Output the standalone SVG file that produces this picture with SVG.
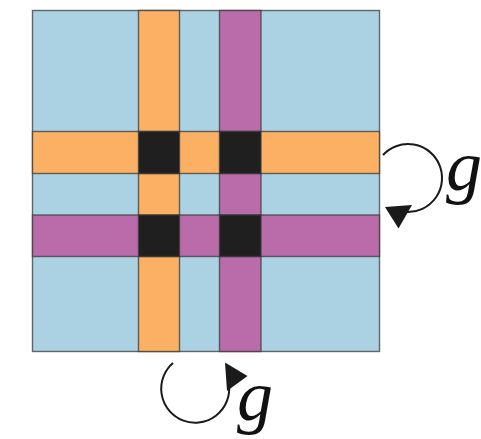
<svg xmlns="http://www.w3.org/2000/svg" width="481" height="439" viewBox="0 0 481 439">
<style>
.cell{stroke:#3a3a3a;stroke-opacity:0.75;stroke-width:1.4}
.blue{fill:#abd2e3}
.orange{fill:#fbb064}
.purple{fill:#b96ca9}
.black{fill:#1f1f1f}
.arc{fill:none;stroke:#1a1a1a;stroke-width:2}
.head{fill:#1a1a1a}
.lbl{font-family:"Liberation Serif",serif;font-style:italic;font-size:72px;fill:#111}
</style>
<rect width="481" height="439" fill="#ffffff"/>
<g id="board">
<rect class="cell blue" x="32.5" y="10.5" width="347" height="341"/>
</g>
<g id="strip-v-orange">
<rect class="cell orange" x="138.5" y="10.5" width="41" height="341"/>
</g>
<g id="strip-v-purple">
<rect class="cell purple" x="219.5" y="10.5" width="41.5" height="341"/>
</g>
<g id="strip-h-orange">
<rect class="cell orange" x="32.5" y="131.5" width="347" height="42"/>
</g>
<g id="strip-h-purple">
<rect class="cell purple" x="32.5" y="215" width="347" height="41.5"/>
</g>
<g id="crossings">
<rect class="cell black" x="138.5" y="131.5" width="41" height="42"/>
<rect class="cell black" x="219.5" y="131.5" width="41.5" height="42"/>
<rect class="cell black" x="138.5" y="215" width="41" height="41.5"/>
<rect class="cell black" x="219.5" y="215" width="41.5" height="41.5"/>
</g>
<g id="connectors">
<path class="arc" d="M383,155 A34,34 0 1 1 407,212"/>
<polygon class="head" points="385,207 412,205 398.5,228.5"/>
<path class="arc" d="M173,363 A34,34 0 1 0 229,385"/>
<polygon class="head" points="225,362.5 247.5,376 227,391"/>
</g>
<g id="label-right">
<text class="lbl" x="446" y="190">g</text>
</g>
<g id="label-bottom">
<text class="lbl" x="237" y="420">g</text>
</g>
</svg>
